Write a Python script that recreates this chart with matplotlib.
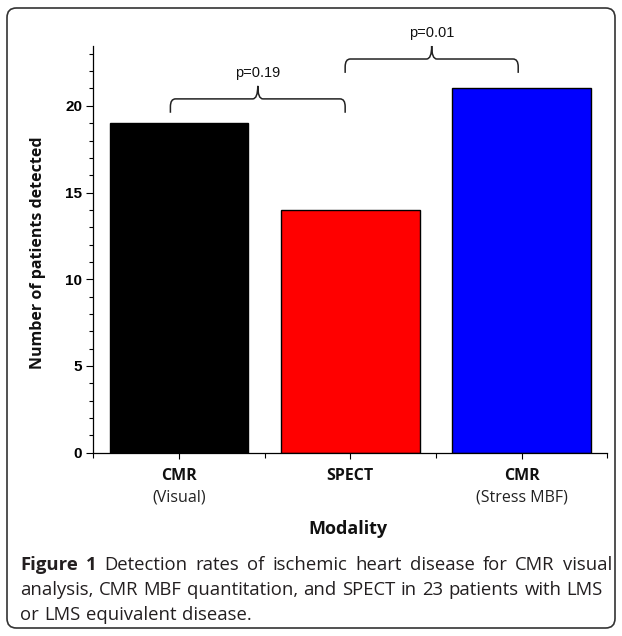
import matplotlib
matplotlib.use("Agg")
import matplotlib.pyplot as plt
from matplotlib.path import Path
from matplotlib.patches import PathPatch, FancyBboxPatch
from matplotlib.ticker import MultipleLocator, FixedLocator

# --- data ---
modalities = ["CMR", "SPECT", "CMR"]
sublabels = ["(Visual)", "", "(Stress MBF)"]
patients_detected = [19, 14, 21]
bar_colors = ["#000000", "#ff0000", "#0000ff"]

# comparisons: (left bar, right bar, bracket height, label)
comp_left = [0.95, 1.97]
comp_right = [1.97, 2.98]
comp_height = [20.4, 22.7]
comp_label = ["p=0.19", "p=0.01"]

caption_lines = [
    "Detection rates of ischemic heart disease for CMR visual",
    "analysis, CMR MBF quantitation, and SPECT in 23 patients with LMS",
    "or LMS equivalent disease.",
]

W, H = 622, 636
fig = plt.figure(figsize=(W / 100, H / 100), dpi=100)
ax = fig.add_axes([93.3 / W, 1 - 452.7 / H, 514 / W, 406.7 / H])

x = [1, 2, 3]
ax.bar(x, patients_detected, width=0.81, color=bar_colors,
       edgecolor="black", linewidth=1.0, zorder=2)

ax.set_xlim(0.5, 3.5)
ax.set_ylim(0, 23.45)
for s in ["top", "right"]:
    ax.spines[s].set_visible(False)
for s in ["left", "bottom"]:
    ax.spines[s].set_linewidth(0.9)

ax.yaxis.set_major_locator(MultipleLocator(5))
ax.yaxis.set_minor_locator(MultipleLocator(1))
ax.tick_params(axis="y", which="major", length=5, width=0.8, pad=3,
               labelsize=11)
ax.tick_params(axis="y", which="minor", length=2.6, width=0.8)
for lab in ax.get_yticklabels():
    lab.set_fontweight("bold")
    lab.set_family("Liberation Sans")

ax.xaxis.set_major_locator(FixedLocator(x))
ax.xaxis.set_minor_locator(FixedLocator([0.5, 1.5, 2.5, 3.5]))
ax.set_xticklabels([])
ax.tick_params(axis="x", which="major", length=4.5, width=0.8)
ax.tick_params(axis="x", which="minor", length=3.5, width=0.8)

lab_font = "Open Sans"
px_to_y = 23.45 / 406.7
for xi, name, sub in zip(x, modalities, sublabels):
    ax.text(xi, -23.5 * px_to_y, name, ha="center", va="center",
            fontsize=11.5, fontweight="bold", family=lab_font, color="#111111")
    if sub:
        ax.text(xi, -45 * px_to_y, sub, ha="center", va="center",
                fontsize=11.5, family=lab_font, color="#222222")

fig.text(348 / W, 1 - 529 / H, "Modality", ha="center", va="center",
         fontsize=13, fontweight="bold", family=lab_font, color="#111111")
fig.text(38 / W, 1 - 253 / H, "Number of patients detected", rotation=90,
         ha="center", va="center", fontsize=11.5, fontweight="bold",
         family=lab_font, color="#111111")

# curly brackets
rx, ry = 0.03, 0.45
for x0, x1, h, lab in zip(comp_left, comp_right, comp_height, comp_label):
    xm = (x0 + x1) / 2
    verts = [(x0, h - 0.8), (x0, h - ry), (x0, h), (x0 + rx, h),
             (xm - rx, h), (xm, h), (xm, h + 0.75),
             (xm, h), (xm + rx, h),
             (x1 - rx, h), (x1, h), (x1, h - ry), (x1, h - 0.8)]
    codes = [Path.MOVETO, Path.LINETO, Path.CURVE3, Path.CURVE3,
             Path.LINETO, Path.CURVE3, Path.CURVE3,
             Path.CURVE3, Path.CURVE3,
             Path.LINETO, Path.CURVE3, Path.CURVE3, Path.LINETO]
    ax.add_patch(PathPatch(Path(verts, codes), fill=False, edgecolor="#222222",
                           linewidth=1.1, clip_on=False, zorder=3))
    ax.text(xm, h + 1.5, lab, ha="center", va="center", fontsize=10.5,
            family="Liberation Sans", color="#111111", clip_on=False)

# caption, first lines justified like the journal layout
cap_size = 13.3
cap_color = "#231f20"
cap_y = [1 - 565 / H, 1 - 590 / H, 1 - 615 / H]
cap_left = 20
fig.canvas.draw()
renderer = fig.canvas.get_renderer()


def put_line(words, y, right=None):
    # words: list of (text, weight)
    items = []
    for w, wt in words:
        t = fig.text(0, y, w, ha="left", va="center", fontsize=cap_size,
                     fontweight=wt, family=lab_font, color=cap_color)
        items.append((t, t.get_window_extent(renderer).width))
    total = sum(wd for _, wd in items)
    gap = 5.5
    if right is not None and len(items) > 1:
        gap = (right - cap_left - total) / (len(items) - 1)
    xpos = cap_left
    for t, wd in items:
        t.set_x(xpos / W)
        xpos += wd + gap


first = [("Figure", "bold"), ("1", "bold")] + \
    [(w, "normal") for w in caption_lines[0].split()]
put_line(first, cap_y[0], right=612)
put_line([(w, "normal") for w in caption_lines[1].split()], cap_y[1], right=603)
put_line([(w, "normal") for w in caption_lines[2].split()], cap_y[2])

# rounded frame
frame = FancyBboxPatch((7 / W, 8 / H), 608 / W, 620 / H,
                       boxstyle="round,pad=0,rounding_size=0.015",
                       transform=fig.transFigure, fill=False,
                       edgecolor="#333333", linewidth=1.2)
fig.patches.append(frame)

fig.savefig("out.png", dpi=100)
